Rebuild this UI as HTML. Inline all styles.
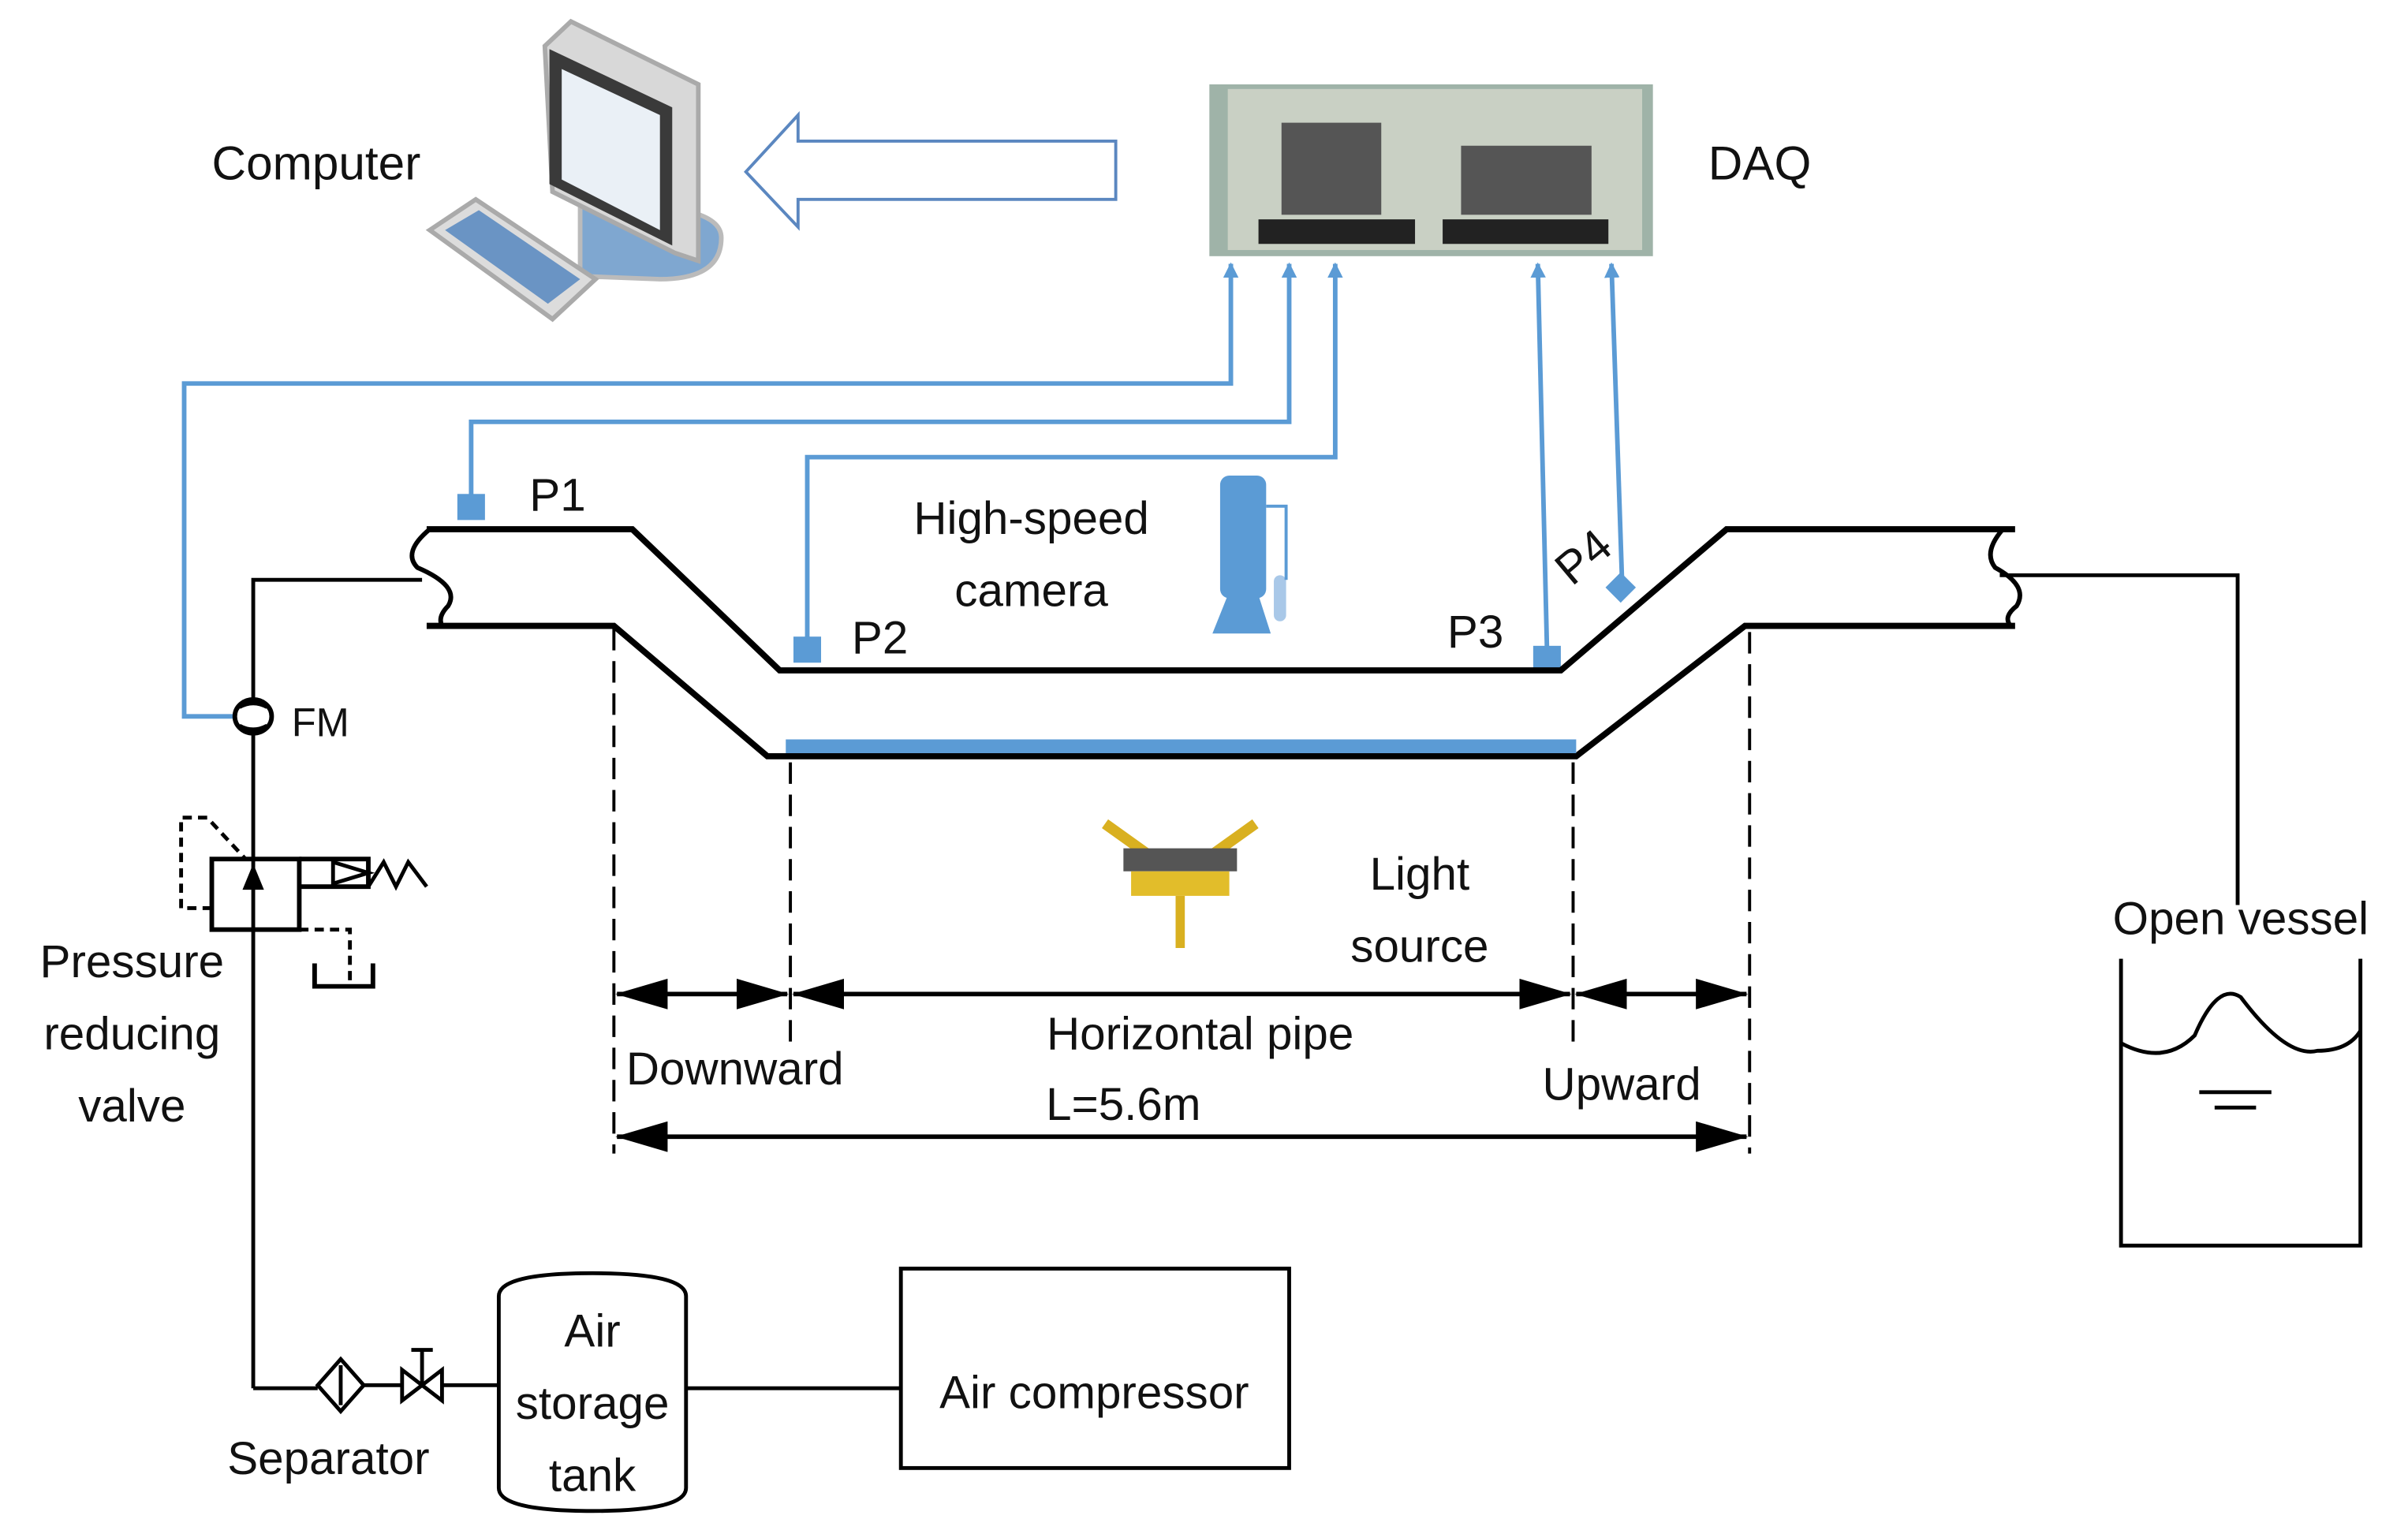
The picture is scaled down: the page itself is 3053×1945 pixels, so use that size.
<!DOCTYPE html>
<html><head><meta charset="utf-8"><style>html,body{margin:0;padding:0;background:#fff}svg{display:block}text{font-family:"Liberation Sans",sans-serif;fill:#111}</style></head><body>
<svg width="3053" height="1945" viewBox="0 0 1569 1000" preserveAspectRatio="none" xmlns="http://www.w3.org/2000/svg">
<defs>
<marker id="ab" markerWidth="10" markerHeight="10" refX="9" refY="5" orient="auto-start-reverse" markerUnits="userSpaceOnUse"><path d="M0,0 L10,5 L0,10 Z" fill="#5b9bd5"/></marker>
<marker id="ak" markerWidth="34" markerHeight="20" refX="33" refY="10" orient="auto-start-reverse" markerUnits="userSpaceOnUse"><path d="M0,0 L34,10 L0,20 Z" fill="#000"/></marker>
</defs>
<g>
<path d="M378,135 Q470,130 470,155 Q470,182 430,182 L378,180 Z" fill="#7fa7d0" stroke="#bbb" stroke-width="3"/>
<path d="M355,30 L372,14 L455,55 L455,170 L440,165 L360,125 Z" fill="#d8d8d8" stroke="#aaa" stroke-width="3"/>
<path d="M358,32 L438,70 L438,160 L358,120 Z" fill="#3a3a3a"/>
<path d="M366,45 L430,75 L430,150 L366,117 Z" fill="#eaf0f6"/>
<path d="M280,150 L310,130 L388,182 L360,208 Z" fill="#dcdcdc" stroke="#aaa" stroke-width="3"/>
<path d="M290,150 L312,137 L378,182 L357,198 Z" fill="#6a94c4"/>
</g>
<text x="138" y="117" font-size="31">Computer</text>
<path d="M727,92 L520,92 L520,75 L486,112 L520,148 L520,130 L727,130 Z" fill="#fff" stroke="#5b87c0" stroke-width="2"/>
<rect x="788" y="55" width="289" height="112" fill="#9fb3a8"/>
<rect x="800" y="58" width="270" height="105" fill="#c9d0c4"/>
<rect x="835" y="80" width="65" height="60" fill="#555"/>
<rect x="952" y="95" width="85" height="45" fill="#555"/>
<rect x="820" y="143" width="102" height="16" fill="#222"/>
<rect x="940" y="143" width="108" height="16" fill="#222"/>
<text x="1113" y="117" font-size="31">DAQ</text>
<g fill="none" stroke="#5b9bd5" stroke-width="3">
<polyline points="152,467 120,467 120,250 802,250 802,172" marker-end="url(#ab)"/>
<polyline points="307,325 307,275 840,275 840,172" marker-end="url(#ab)"/>
<polyline points="526,416 526,298 870,298 870,172" marker-end="url(#ab)"/>
<line x1="1008" y1="424" x2="1002" y2="172" marker-end="url(#ab)"/>
<line x1="1057" y1="382" x2="1050" y2="172" marker-end="url(#ab)"/>
</g>
<g fill="#5b9bd5">
<rect x="298" y="322" width="18" height="17"/>
<rect x="517" y="415" width="18" height="17"/>
<rect x="999" y="421" width="18" height="17"/>
<rect x="1049" y="376" width="14" height="14" transform="rotate(45 1056 383)"/>
</g>
<g fill="none" stroke="#000" stroke-width="4">
<polyline points="278,345 412,345 508,437 1017,437 1125,345 1313,345"/>
<polyline points="278,408 400,408 500,493 1027,493 1137,408 1313,408"/>
<path d="M280,345 Q262,360 272,370 Q300,382 292,395 Q285,402 288,408" stroke-width="3"/>
<path d="M1305,345 Q1292,360 1300,370 Q1322,382 1314,395 Q1305,402 1310,408" stroke-width="3"/>
</g>
<rect x="512" y="482" width="515" height="9" fill="#5b9bd5"/>
<g fill="none" stroke="#000" stroke-width="2.5">
<polyline points="165,457 165,378 275,378"/>
<line x1="165" y1="478" x2="165" y2="905"/>
<polyline points="165,905 207,905"/>
<polyline points="1303,375 1458,375 1458,590"/>
<ellipse cx="165" cy="467" rx="12" ry="11" stroke-width="3"/>
<path d="M156,461 Q165,456 174,461 M156,473 Q165,478 174,473"/>
<rect x="138" y="560" width="57" height="46" stroke-width="3"/>
<polyline points="195,560 240,560 240,578 195,578" stroke-width="3"/>
<path d="M217,562 L240,569 L217,576 Z"/>
<path d="M240,578 L250,562 L258,578 L266,562 L278,578"/>
<polyline points="138,592 118,592 118,533 135,533 160,560" stroke-dasharray="6,4"/>
<polyline points="195,606 228,606 228,640" stroke-dasharray="6,4"/>
<polyline points="205,628 205,643 243,643 243,628" stroke-width="3"/>
</g>
<path d="M165,563 L158,580 L172,580 Z" fill="#000"/>
<g fill="none" stroke="#000" stroke-width="2.5">
<path d="M222,886 L237,903 L222,920 L207,903 Z"/>
<line x1="222" y1="890" x2="222" y2="916"/>
<line x1="237" y1="903" x2="262" y2="903"/>
<path d="M262,893 L275,903 L262,913 Z M288,893 L275,903 L288,913 Z"/>
<line x1="275" y1="880" x2="275" y2="903"/><line x1="268" y1="880" x2="282" y2="880"/>
<line x1="288" y1="903" x2="325" y2="903"/>
<path d="M325,845 Q325,830 386,830 Q447,830 447,845 L447,970 Q447,985 386,985 Q325,985 325,970 Z"/>
<line x1="447" y1="905" x2="587" y2="905"/>
<rect x="587" y="827" width="253" height="130"/>
<polyline points="1382,625 1382,812 1538,812 1538,625"/>
<path d="M1382,680 Q1410,695 1430,675 Q1445,640 1460,650 Q1490,690 1510,685 Q1530,685 1538,672"/>
<line x1="1433" y1="712" x2="1480" y2="712"/><line x1="1443" y1="722" x2="1470" y2="722"/>
</g>
<g stroke="#000" stroke-width="2" stroke-dasharray="14,7">
<line x1="400" y1="410" x2="400" y2="752"/>
<line x1="515" y1="497" x2="515" y2="680"/>
<line x1="1025" y1="497" x2="1025" y2="680"/>
<line x1="1140" y1="412" x2="1140" y2="752"/>
</g>
<g stroke="#000" stroke-width="3">
<line x1="402" y1="648" x2="513" y2="648" marker-start="url(#ak)" marker-end="url(#ak)"/>
<line x1="517" y1="648" x2="1023" y2="648" marker-start="url(#ak)" marker-end="url(#ak)"/>
<line x1="1027" y1="648" x2="1138" y2="648" marker-start="url(#ak)" marker-end="url(#ak)"/>
<line x1="402" y1="741" x2="1138" y2="741" marker-start="url(#ak)" marker-end="url(#ak)"/>
</g>
<g fill="#5b9bd5">
<rect x="795" y="310" width="30" height="80" rx="6"/>
<path d="M800,388 L820,388 L828,413 L790,413 Z"/>
<rect x="830" y="375" width="8" height="30" rx="4" fill="#a9c8e8"/>
</g>
<path d="M825,330 L838,330 L838,378" fill="none" stroke="#5b9bd5" stroke-width="2"/>
<g>
<line x1="720" y1="537" x2="748" y2="557" stroke="#d9b020" stroke-width="7"/>
<line x1="818" y1="537" x2="790" y2="557" stroke="#d9b020" stroke-width="7"/>
<rect x="732" y="553" width="74" height="15" fill="#555"/>
<rect x="737" y="568" width="64" height="16" fill="#e2bd2a"/>
<line x1="769" y1="584" x2="769" y2="618" stroke="#d9b020" stroke-width="6"/>
</g>
<g font-size="30">
<text x="345" y="333">P1</text>
<text x="555" y="426">P2</text>
<text x="943" y="422">P3</text>
<text x="1013" y="378" transform="rotate(-40 1025 365)">P4</text>
<text x="672" y="348" text-anchor="middle">High-speed</text>
<text x="672" y="395" text-anchor="middle">camera</text>
<text x="190" y="480" font-size="26">FM</text>
<text x="86" y="637" text-anchor="middle">Pressure</text>
<text x="86" y="684" text-anchor="middle">reducing</text>
<text x="86" y="731" text-anchor="middle">valve</text>
<text x="925" y="580" text-anchor="middle">Light</text>
<text x="925" y="627" text-anchor="middle">source</text>
<text x="782" y="684" text-anchor="middle">Horizontal pipe</text>
<text x="408" y="707">Downward</text>
<text x="732" y="730" text-anchor="middle">L=5.6m</text>
<text x="1005" y="717">Upward</text>
<text x="1460" y="609" text-anchor="middle">Open vessel</text>
<text x="214" y="961" text-anchor="middle">Separator</text>
<text x="386" y="878" text-anchor="middle">Air</text>
<text x="386" y="925" text-anchor="middle">storage</text>
<text x="386" y="972" text-anchor="middle">tank</text>
<text x="713" y="918" text-anchor="middle">Air compressor</text>
</g>
</svg>
</body></html>
